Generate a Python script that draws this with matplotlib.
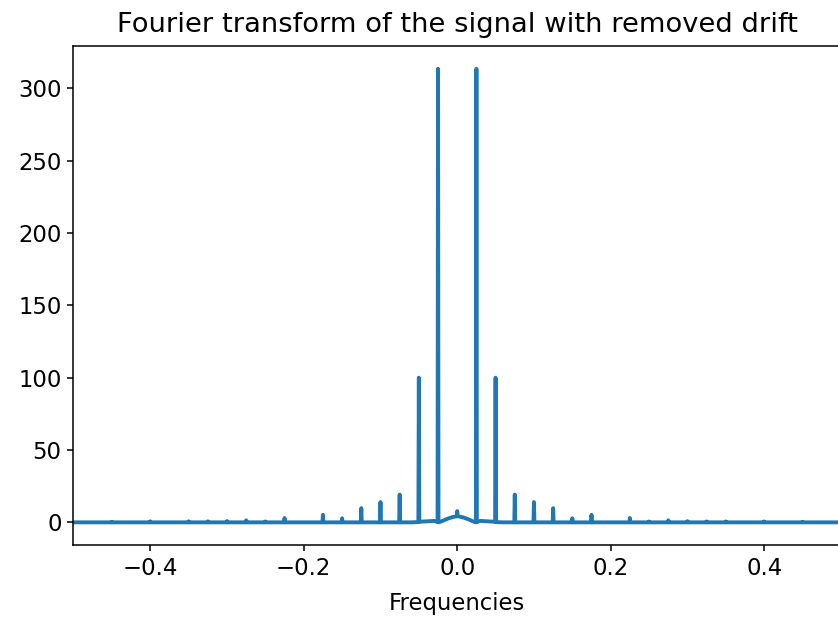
import numpy as np
import matplotlib
matplotlib.use("Agg")
import matplotlib.pyplot as plt

plt.rcParams.update({
    "font.size": 16.4,
    "axes.linewidth": 1.1,
    "xtick.major.size": 4.5,
    "ytick.major.size": 4.5,
    "xtick.major.width": 1.1,
    "ytick.major.width": 1.1,
    "xtick.major.pad": 4.0,
    "ytick.major.pad": 4.0,
})

## Harmonic spikes away from the centre (magnitude)
spike_freqs = [-0.45, -0.4, -0.35, -0.325, -0.3, -0.275, -0.25, -0.225,
               -0.175, -0.15, -0.125, -0.1, -0.075,
               0.075, 0.1, 0.125, 0.15, 0.175,
               0.225, 0.25, 0.275, 0.3, 0.325, 0.35, 0.4, 0.45]
spike_heights = [0.4, 0.7, 0.7, 0.7, 0.9, 1.4, 0.6, 3.0,
                 5.2, 2.8, 9.8, 14.0, 19.2,
                 19.2, 14.0, 9.8, 2.8, 5.2,
                 3.0, 0.6, 1.4, 0.8, 0.6, 0.6, 0.6, 0.4]

## Low frequency part, including the main peaks
center_freqs = [-0.5, -0.06, -0.0506, -0.05, -0.0494, -0.04, -0.03, -0.0256,
                -0.025, -0.0244, -0.02, -0.015, -0.01, -0.005, -0.0006, 0.0,
                0.0006, 0.005, 0.01, 0.015, 0.02, 0.0244, 0.025, 0.0256,
                0.03, 0.04, 0.0494, 0.05, 0.0506, 0.06, 0.5]
center_vals = [0.0, 0.0, 0.2, 100.0, 0.4, 0.7, 1.0, 0.2,
               313.5, 0.0, 0.8, 2.0, 3.0, 3.8, 4.2, 7.8,
               4.2, 3.8, 3.0, 2.0, 0.8, 0.0, 313.5, 0.2,
               1.0, 0.7, 0.4, 100.0, 0.2, 0.0, 0.0]

d = 0.0006
freqs = list(center_freqs)
mags = list(center_vals)
for f, h in zip(spike_freqs, spike_heights):
    freqs += [f - d, f, f + d]
    mags += [0.0, h, 0.0]

freqs = np.array(freqs)
mags = np.array(mags)
order = np.argsort(freqs, kind="stable")

fig = plt.figure(figsize=(8.38, 6.19), dpi=100)
ax = fig.add_axes([0.0877, 0.1195, 0.9158, 0.806])
ax.plot(freqs[order], mags[order], lw=2.8, color="#1f77b4")
ax.set_xlim(-0.5, 0.5)
ax.set_title("Fourier transform of the signal with removed drift", fontsize=19.7, pad=10)
ax.set_xlabel("Frequencies", labelpad=9)

fig.savefig("out.png", dpi=100)
